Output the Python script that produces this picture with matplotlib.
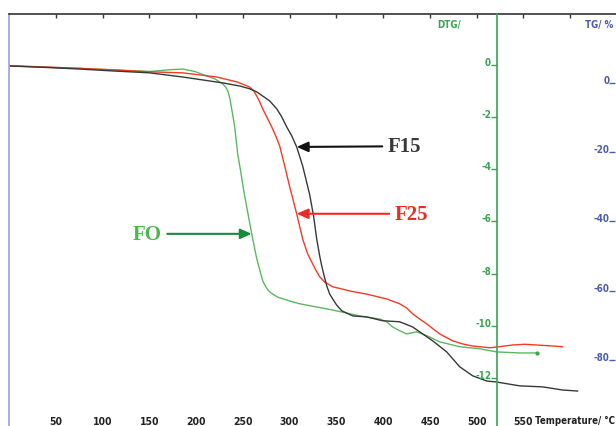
import matplotlib
matplotlib.use("Agg")
import matplotlib.pyplot as plt
from matplotlib.font_manager import FontProperties

# Thermogravimetric curves: temperature (°C) vs. mass change (TG, %)
f15_temp = [0, 36.1, 75.7, 107.7, 150.5, 185.8, 228.5, 246.7, 257.4, 264.9,
            271.3, 278.7, 286.3, 291.6, 296.9, 302.3, 307.6, 314.0, 321.5, 325.8,
            329.0, 332.2, 334.4, 337.5, 339.7, 342.9, 346.1, 350.4, 355.7, 367.5,
            382.4, 399.5, 417.7, 431.6, 442.3, 453.0, 468.0, 481.9, 495.7, 510.7,
            521.4, 545.9, 570.5, 591.9, 607.9]
f15_tg = [4.9, 4.5, 4.0, 3.5, 2.9, 1.7, 0.0, -0.9, -1.7, -2.6,
          -3.8, -5.2, -7.5, -9.8, -12.7, -15.3, -18.5, -24.0, -32.3, -38.7,
          -45.1, -50.0, -52.9, -56.3, -58.6, -61.0, -62.4, -64.2, -65.8, -67.3,
          -67.6, -68.7, -69.0, -70.5, -72.5, -74.5, -77.7, -82.0, -84.6, -86.1,
          -86.4, -87.5, -87.8, -88.7, -89.0]

f25_temp = [0, 36.1, 75.7, 107.7, 150.5, 185.8, 222.1, 243.5, 252.0, 257.4,
            261.6, 264.9, 268.1, 271.3, 275.5, 280.9, 285.2, 289.4, 294.8, 300.1,
            307.6, 314.0, 319.4, 323.6, 327.9, 332.2, 337.5, 346.1, 355.7, 364.3,
            382.4, 403.8, 417.7, 425.2, 431.6, 439.1, 446.6, 460.5, 474.4, 485.0,
            495.7, 513.9, 524.6, 538.5, 551.3, 564.1, 581.2, 591.9]
f25_tg = [4.9, 4.6, 4.2, 3.8, 3.2, 2.9, 1.7, 0.3, -0.6, -1.2,
          -2.3, -3.8, -5.5, -7.5, -9.8, -12.7, -15.3, -18.2, -24.0, -30.0,
          -37.8, -45.1, -49.4, -51.7, -54.0, -56.0, -57.5, -58.9, -59.5, -60.1,
          -61.0, -62.4, -63.8, -65.0, -66.7, -68.2, -69.6, -72.5, -74.5, -75.4,
          -76.0, -76.5, -76.2, -75.7, -75.5, -75.7, -76.0, -76.2]

fo_temp = [0, 36.1, 75.7, 107.7, 150.5, 171.9, 185.8, 198.6, 211.4, 219.9,
           228.5, 231.7, 233.9, 236.0, 238.1, 241.3, 244.5, 247.8, 251.0, 255.2,
           259.5, 264.9, 268.1, 271.3, 274.5, 277.7, 281.9, 287.4, 300.1, 310.8,
           346.1, 374.9, 396.3, 403.8, 410.2, 417.7, 425.2, 430.5, 435.9, 446.6,
           460.5, 481.9, 503.2, 521.4, 545.9, 564.1]
fo_tg = [5.0, 4.6, 4.2, 3.8, 3.3, 3.8, 4.0, 3.3, 2.0, 1.2,
         -0.3, -1.2, -2.3, -4.3, -7.5, -12.7, -20.5, -25.7, -31.2, -37.3,
         -43.6, -50.8, -54.0, -57.2, -58.9, -60.1, -61.0, -61.9, -63.0, -63.8,
         -65.6, -67.3, -68.2, -69.0, -70.5, -71.6, -72.5, -72.2, -71.9, -73.0,
         -74.8, -76.2, -76.8, -77.7, -78.0, -78.0]

temp_ticks = [50, 100, 150, 200, 250, 300, 350, 400, 450, 500, 550]
top_ticks = temp_ticks + [600]
dtg_ticks = [0, -2, -4, -6, -8, -10, -12]
tg_ticks = [0, -20, -40, -60, -80]

# Sample labels: name, curve point the arrow points at, text position
label_f15 = ("F15", 307.6, -18.5, 405.0, -18.3)
label_f25 = ("F25", 307.6, -37.8, 412.4, -37.8)
label_fo = ("FO", 259.5, -43.6, 163.3, -43.6)

c_black = "#383838"
c_red = "#f43a26"
c_green = "#5cb860"
c_axis_green = "#3aa452"
c_blue = "#4d5cb0"

W, H = 616, 427
fig = plt.figure(figsize=(W / 100, H / 100), dpi=100)
ax = fig.add_axes([9 / W, 0, 607 / W, 412 / H])
ax.set_xlim(0, 649)
ax.set_ylim(-99.1, 19.9)

for s in ("right", "bottom"):
    ax.spines[s].set_visible(False)
ax.spines["left"].set_color("#9ea9df")
ax.spines["left"].set_linewidth(1.3)
ax.spines["top"].set_color("#333333")
ax.spines["top"].set_linewidth(1.2)
ax.set_yticks([])


def narrow(size):
    return FontProperties(family="DejaVu Sans", stretch="condensed",
                          weight="bold", size=size)


ax.set_xticks(temp_ticks)
ax.set_xticklabels([str(v) for v in temp_ticks], fontproperties=narrow(7.5))
ax.tick_params(axis="x", length=0, pad=-7.5, labelcolor="#222222")
ax.set_xlabel("Temperature/ °C", fontproperties=narrow(7), color="#222222",
              ha="left", va="center")
ax.xaxis.set_label_coords((535 - 9) / 607, 6 / 412)

top = ax.secondary_xaxis("top")
top.set_xticks(top_ticks)
top.set_xticklabels([])
top.tick_params(direction="in", length=3, width=1, color="#333333")
top.spines["top"].set_visible(False)

# curves
ax.plot(fo_temp, fo_tg, color=c_green, lw=1.0)
ax.plot(fo_temp[-1:], fo_tg[-1:], "o", color=c_axis_green, ms=2)
ax.plot(f25_temp, f25_tg, color=c_red, lw=1.0)
ax.plot(f15_temp, f15_tg, color=c_black, lw=1.0)

serif = ["Liberation Serif", "DejaVu Serif"]
for (name, tx, ty, lx, ly), tcol, acol, ha in (
        (label_f15, c_black, "#111111", "left"),
        (label_f25, "#ee2b22", "#ee2b22", "left"),
        (label_fo, "#4cb84c", "#178c3c", "right")):
    ax.annotate(name, xy=(tx, ty), xytext=(lx, ly), ha=ha, va="center",
                fontfamily=serif, fontweight="bold", fontsize=15, color=tcol,
                arrowprops=dict(arrowstyle="-|>,head_length=0.45,head_width=0.2",
                                color=acol, lw=1.5, shrinkA=2, shrinkB=0))

# DTG axis drawn on the green vertical line
ax_dtg = ax.twinx()
ax_dtg.set_ylim(-13.85, 1.96)
for s in ("right", "top", "bottom"):
    ax_dtg.spines[s].set_visible(False)
ax_dtg.yaxis.set_ticks_position("left")
ax_dtg.spines["left"].set_position(("data", 521.4))
ax_dtg.spines["left"].set_color(c_axis_green)
ax_dtg.spines["left"].set_linewidth(1.2)
ax_dtg.set_yticks(dtg_ticks)
ax_dtg.set_yticklabels([str(v) for v in dtg_ticks], fontproperties=narrow(7))
ax_dtg.tick_params(axis="y", direction="out", length=4, width=1,
                   color=c_axis_green, labelcolor=c_axis_green, pad=0)
for lbl in ax_dtg.get_yticklabels():
    lbl.set_va("baseline")

# TG axis labels near the right edge
ax_tg = ax.twinx()
ax_tg.set_ylim(-99.1, 19.9)
for s in ("right", "top", "bottom", "left"):
    ax_tg.spines[s].set_visible(False)
ax_tg.yaxis.set_ticks_position("left")
ax_tg.spines["left"].set_position(("axes", (615 - 9) / 607))
ax_tg.set_yticks(tg_ticks)
ax_tg.set_yticklabels([str(v) for v in tg_ticks], fontproperties=narrow(7))
ax_tg.tick_params(axis="y", direction="out", length=4, width=1,
                  color=c_blue, labelcolor=c_blue, pad=0)
for lbl in ax_tg.get_yticklabels():
    lbl.set_va("baseline")

fig.text(449 / W, 1 - 25 / H, "DTG/", color=c_axis_green,
         fontproperties=narrow(7), ha="center", va="center")
fig.text(599 / W, 1 - 25 / H, "TG/ %", color=c_blue,
         fontproperties=narrow(7), ha="center", va="center")

fig.savefig("out.png", dpi=100)
